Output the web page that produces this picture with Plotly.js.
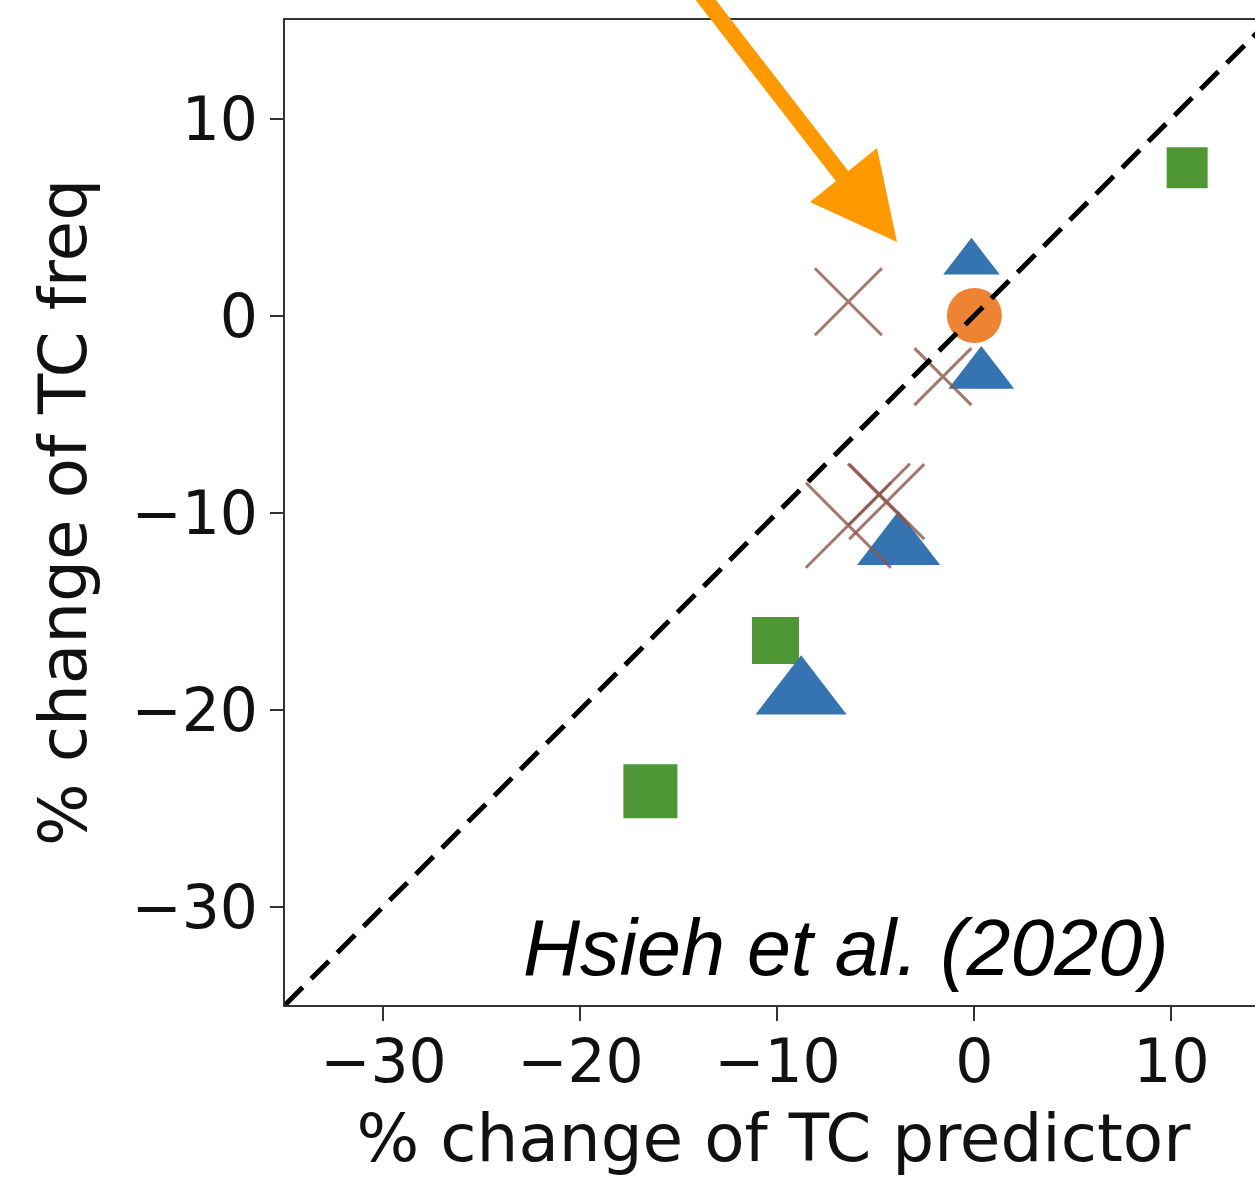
<!DOCTYPE html>
<html>
<head>
<meta charset="utf-8">
<script src="https://cdn.plot.ly/plotly-3.0.1.min.js"></script>
<style>
html,body{margin:0;padding:0;overflow:hidden;background:#fff;}
#chart{width:1262px;height:1178px;}
</style>
</head>
<body>
<div id="chart"></div>
<script>
// ---- data ----
var squareX = [10.8, -10.1, -16.45];
var squareY = [7.5, -16.5, -24.15];
var squareSize = [41, 47, 54];

var triX = [-0.15, 0.35, -3.85, -8.8];
var triY = [2.7, -3.0, -11.75, -19.25];
var triSize = [49, 57, 72, 79];

var circX = [0];
var circY = [0];
var circSize = [55];

var crossX = [-6.4, -1.6, -4.45, -4.85, -6.4];
var crossY = [0.7, -3.1, -9.45, -9.1, -10.65];
var crossSize = [67, 57, 75, 62, 85];

var diagX = [-35, 15];
var diagY = [-35, 15];

var xTicks = [-30, -20, -10, 0, 10];
var yTicks = [-30, -20, -10, 0, 10];
var xLabel = '% change of TC predictor';
var yLabel = '% change of TC freq';
var noteText = 'Hsieh et al. (2020)';

// ---- traces ----
var traces = [
  {x: squareX, y: squareY, mode: 'markers', type: 'scatter',
   marker: {symbol: 'square', size: squareSize, color: '#4f9735', opacity: 1, line: {width: 0}}},
  {x: triX, y: triY, mode: 'markers', type: 'scatter',
   marker: {symbol: 'triangle-up', size: triSize, color: '#3574b0', opacity: 1, line: {width: 0}}},
  {x: circX, y: circY, mode: 'markers', type: 'scatter',
   marker: {symbol: 'circle', size: circSize, color: '#ee8433', opacity: 1, line: {width: 0}}},
  {x: crossX, y: crossY, mode: 'markers', type: 'scatter',
   marker: {symbol: 'x-thin-open', size: crossSize, color: 'rgba(140,86,75,0.8)', opacity: 1,
            line: {width: 3, color: 'rgba(140,86,75,0.8)'}}},
  {x: diagX, y: diagY, mode: 'lines', type: 'scatter',
   line: {color: '#000', width: 5, dash: '25px,12px'}}
];

var axisFont = {family: 'DejaVu Sans', size: 60, color: '#111'};
var titleFont = {family: 'DejaVu Sans', size: 66, color: '#111'};
var layout = {
  width: 1262, height: 1178,
  margin: {l: 285, r: 0, t: 20, b: 173},
  showlegend: false,
  paper_bgcolor: '#fff', plot_bgcolor: '#fff',
  xaxis: {
    range: [-35, 14.6], tickvals: xTicks, ticks: 'outside', ticklen: 14, tickwidth: 2,
    tickcolor: '#333', showgrid: false, zeroline: false, showline: true, mirror: true,
    linecolor: '#333', linewidth: 2, tickfont: axisFont, automargin: false,
    ticklabelstandoff: -11,
    title: {text: xLabel, font: titleFont, standoff: 20}
  },
  yaxis: {
    range: [-35, 15], tickvals: yTicks, ticks: 'outside', ticklen: 13, tickwidth: 2,
    tickcolor: '#333', showgrid: false, zeroline: false, showline: true, mirror: true,
    linecolor: '#333', linewidth: 2, tickfont: axisFont, automargin: false,
    title: {text: yLabel, font: titleFont, standoff: 23}
  },
  annotations: [{
    text: noteText, xref: 'paper', yref: 'paper', x: 0.574, y: 0.058,
    xanchor: 'center', yanchor: 'middle', showarrow: false,
    font: {family: 'Liberation Sans, Arial', size: 79, color: '#000', style: 'italic'}
  }],
  shapes: [
    {type: 'line', xref: 'paper', yref: 'paper', x0: 0.4227, y0: 1.0305, x1: 0.5732, y1: 0.8376,
     line: {color: '#ff9900', width: 16}},
    {type: 'path', xref: 'paper', yref: 'paper',
     path: 'M 0.6264,0.7746 L 0.5374,0.8152 L 0.6059,0.8701 Z',
     fillcolor: '#ff9900', line: {width: 0}}
  ]
};

Plotly.newPlot('chart', traces, layout, {staticPlot: true, displayModeBar: false});
</script>
</body>
</html>
